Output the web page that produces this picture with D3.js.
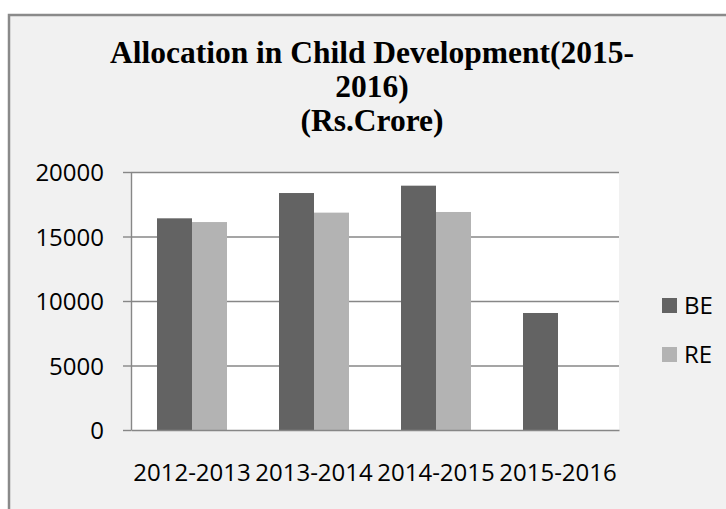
<!DOCTYPE html>
<html>
<head>
<meta charset="utf-8">
<script src="https://cdn.jsdelivr.net/npm/d3@7"></script>
<style>
  html, body { margin: 0; padding: 0; background: #fff; }
  svg { display: block; }
  .axis text { font-family: "Open Sans", sans-serif; font-size: 24px; fill: #000; }
</style>
</head>
<body>
<div id="chart"></div>
<script>
const titleLines = ["Allocation in Child Development(2015-", "2016)", "(Rs.Crore)"];
const years      = ["2012-2013", "2013-2014", "2014-2015", "2015-2016"];
const seriesKeys = ["BE", "RE"];
const beValues   = [16410, 18370, 18940, 9070];
const reValues   = [16120, 16850, 16900, null];
const yTicks     = [0, 5000, 10000, 15000, 20000];

window.addEventListener("DOMContentLoaded", () => {
  const width = 726, height = 509;
  const plot = { left: 131, right: 619, top: 172, bottom: 430 };

  const svg = d3.select("#chart").append("svg")
    .attr("width", width).attr("height", height);

  // chart frame (runs off the right/bottom of the picture)
  svg.append("rect")
    .attr("x", 9).attr("y", 15)
    .attr("width", 740).attr("height", 520)
    .attr("fill", "#f1f1f1")
    .attr("stroke", "#8a8a8a").attr("stroke-width", 2.5);

  // title
  svg.append("g").selectAll("text")
    .data(titleLines)
    .join("text")
    .attr("x", 372)
    .attr("y", (d, i) => 63 + i * 34)
    .attr("text-anchor", "middle")
    .style("font-family", "'Liberation Serif', serif")
    .style("font-weight", "bold")
    .style("font-size", "31.5px")
    .text(d => d);

  // plot area
  svg.append("rect")
    .attr("x", plot.left).attr("y", plot.top)
    .attr("width", plot.right - plot.left).attr("height", plot.bottom - plot.top)
    .attr("fill", "#fff");

  const x = d3.scaleBand().domain(years).range([plot.left, plot.right]);
  const xs = d3.scaleBand().domain(seriesKeys).range([26, 96]);
  const y = d3.scaleLinear().domain([0, 20000]).range([plot.bottom, plot.top]);
  const color = d3.scaleOrdinal().domain(seriesKeys).range(["#636363", "#b3b3b3"]);

  // gridlines
  const grid = svg.append("g")
    .attr("transform", `translate(${plot.left},0)`)
    .call(d3.axisLeft(y).tickValues(yTicks.slice(1)).tickSize(-(plot.right - plot.left)).tickFormat(""));
  grid.select(".domain").remove();
  grid.selectAll("line").attr("stroke", "#878787").attr("stroke-width", 1.4);

  // bars
  const rows = years.map((yr, i) => ({ yr, vals: [
    { key: "BE", v: beValues[i] },
    { key: "RE", v: reValues[i] }
  ].filter(d => d.v != null) }));

  svg.append("g").selectAll("g")
    .data(rows)
    .join("g")
    .attr("transform", d => `translate(${x(d.yr)},0)`)
    .selectAll("rect")
    .data(d => d.vals)
    .join("rect")
    .attr("x", d => xs(d.key))
    .attr("width", xs.bandwidth())
    .attr("y", d => y(d.v))
    .attr("height", d => y(0) - y(d.v))
    .attr("fill", d => color(d.key));

  // y axis
  const axY = svg.append("g")
    .attr("class", "axis")
    .attr("transform", `translate(${plot.left},0)`)
    .call(d3.axisLeft(y).tickValues(yTicks).tickFormat(d3.format("d"))
      .tickSize(8).tickSizeOuter(0).tickPadding(19));
  axY.selectAll("line, path").attr("stroke", "#878787").attr("stroke-width", 1.4);
  axY.selectAll("text").attr("dy", "0.36em");

  // x axis
  const axX = svg.append("g")
    .attr("class", "axis")
    .attr("transform", `translate(0,${plot.bottom})`)
    .call(d3.axisBottom(x).tickSize(0).tickPadding(34));
  axX.select(".domain").attr("stroke", "#878787").attr("stroke-width", 1.4);

  // legend
  const leg = svg.append("g").selectAll("g")
    .data(seriesKeys)
    .join("g")
    .attr("transform", (d, i) => `translate(662,${298 + i * 49})`);
  leg.append("rect")
    .attr("width", 15).attr("height", 15)
    .attr("fill", d => color(d));
  leg.append("text")
    .attr("x", 22).attr("y", 16)
    .style("font-family", "'Open Sans', sans-serif")
    .style("font-size", "24px")
    .text(d => d);
});
</script>
</body>
</html>
